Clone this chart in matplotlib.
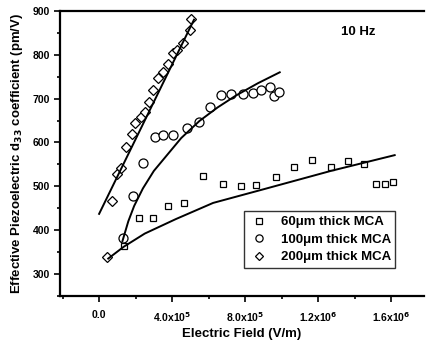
import numpy as np
import matplotlib
matplotlib.use("Agg")
import matplotlib.pyplot as plt
from matplotlib.ticker import MultipleLocator

plt.rcParams['font.family'] = ['Liberation Sans', 'DejaVu Sans']
plt.rcParams['font.weight'] = 'bold'

# 60 um thick MCA (squares)
sq_x = [1.39e5, 2.21e5, 2.94e5, 3.80e5, 4.67e5, 5.71e5, 6.79e5, 7.80e5, 8.62e5,
        9.71e5, 1.068e6, 1.169e6, 1.273e6, 1.364e6, 1.450e6, 1.519e6, 1.565e6, 1.611e6]
sq_y = [363, 428, 428, 456, 462, 523, 506, 500, 504,
        521, 544, 559, 544, 557, 550, 505, 505, 509]
sq_fit_x = [5e4, 1.35e5, 2.5e5, 4.2e5, 6.25e5, 9e5, 1.27e6, 1.62e6]
sq_fit_y = [335, 362, 392, 425, 462, 493, 535, 571]

# 100 um thick MCA (circles)
ci_x = [1.33e5, 1.88e5, 2.43e5, 3.07e5, 3.52e5, 4.07e5, 4.81e5, 5.50e5, 6.08e5,
        6.70e5, 7.25e5, 7.89e5, 8.44e5, 8.89e5, 9.35e5, 9.59e5, 9.86e5]
ci_y = [382, 477, 552, 613, 617, 617, 632, 647, 681,
        708, 710, 710, 713, 719, 726, 706, 716]
ci_fit_x = [1.28e5, 1.6e5, 1.92e5, 2.4e5, 3.0e5, 3.6e5, 4.5e5, 5.5e5, 6.5e5, 7.5e5, 8.7e5, 9.9e5]
ci_fit_y = [375, 420, 455, 495, 535, 565, 610, 649, 680, 707, 735, 760]

# 200 um thick MCA (diamonds)
di_x = [4.5e4, 7.3e4, 9.7e4, 1.19e5, 1.48e5, 1.79e5, 1.97e5, 2.28e5, 2.52e5, 2.76e5,
        2.98e5, 3.25e5, 3.52e5, 3.80e5, 4.07e5, 4.26e5, 4.59e5, 4.99e5, 5.04e5]
di_y = [338, 466, 527, 541, 590, 620, 644, 659, 670, 693,
        720, 746, 761, 780, 803, 812, 826, 856, 881]
di_fit_x = [0, 5.2e5]
di_fit_y = [437, 880]

xticks = [0, 4e5, 8e5, 1.2e6, 1.6e6]
xticklabels = ['0.0', '4.0x10$^5$', '8.0x10$^5$', '1.2x10$^6$', '1.6x10$^6$']

fig = plt.figure(figsize=(4.26, 3.42), dpi=100)
ax = fig.add_axes([0.141, 0.135, 0.854, 0.833])

mk = dict(linestyle='none', markerfacecolor='white', markeredgecolor='black', markeredgewidth=0.9)
ax.plot(sq_x, sq_y, marker='s', markersize=5, label='60\u03bcm thick MCA', **mk)
ax.plot(ci_x, ci_y, marker='o', markersize=6.5, label='100\u03bcm thick MCA', **mk)
ax.plot(di_x, di_y, marker='D', markersize=5, label='200\u03bcm thick MCA', **mk)

ax.plot(sq_fit_x, sq_fit_y, color='black', lw=1.4)
ax.plot(ci_fit_x, ci_fit_y, color='black', lw=1.4)
ax.plot(di_fit_x, di_fit_y, color='black', lw=1.4)

ax.set_xlim(-2.14e5, 1.78e6)
ax.set_ylim(250, 900)
ax.set_xticks(xticks)
ax.set_xticklabels(xticklabels)
ax.xaxis.set_minor_locator(MultipleLocator(2e5))
ax.yaxis.set_major_locator(MultipleLocator(100))
ax.yaxis.set_minor_locator(MultipleLocator(50))
ax.tick_params(which='both', direction='out', labelsize=7.5, width=1.2)
ax.tick_params(which='major', length=4)
ax.tick_params(which='minor', length=2)
ax.tick_params(axis='x', pad=6)

for s in ['left', 'bottom', 'top']:
    ax.spines[s].set_linewidth(1.6)
ax.spines['right'].set_visible(False)

ax.set_xlabel('Electric Field (V/m)', fontsize=9.5, fontweight='bold', labelpad=3)
ax.set_ylabel('Effective Piezoelectric d$_{33}$ coefficient (pm/V)', fontsize=9.5,
              fontweight='bold', labelpad=5)

ax.text(0.82, 0.925, '10 Hz', transform=ax.transAxes, fontsize=9.5, fontweight='bold',
        ha='center', va='center')

leg = ax.legend(loc='lower right', bbox_to_anchor=(0.94, 0.075), fontsize=9.5, frameon=True,
                fancybox=False, edgecolor='black', handletextpad=0.9, handlelength=1.5,
                borderpad=0.35, labelspacing=0.4, markerscale=0.8)
leg.get_frame().set_linewidth(1.0)

fig.savefig('out.png', dpi=100)
